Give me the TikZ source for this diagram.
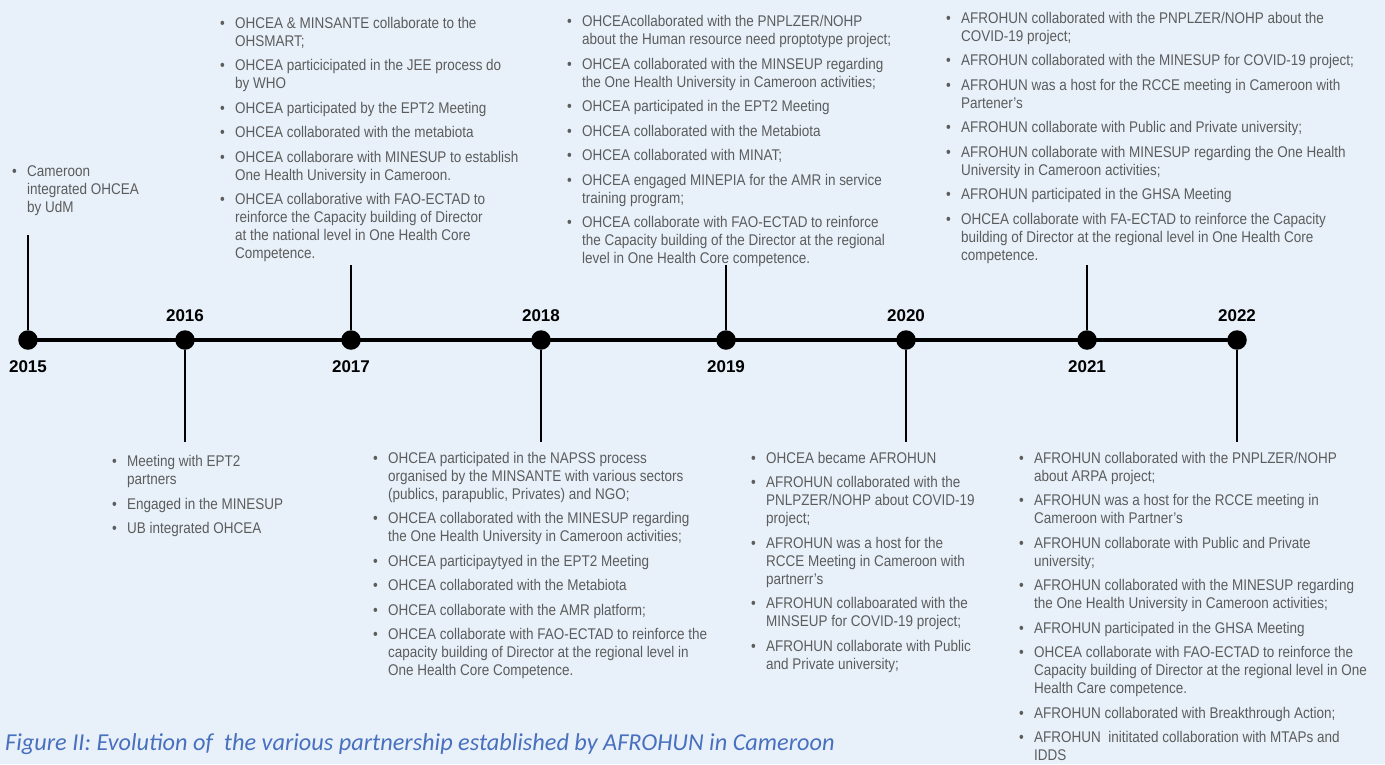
\documentclass[tikz,border=0pt]{standalone}
\usepackage{fontspec}
\setmainfont{Liberation Sans}
\newfontfamily\bodyfont{Liberation Sans}[FakeStretch=0.87]
\newfontfamily\yearfont{Liberation Sans}
\newfontfamily\capfont{Carlito}
\definecolor{bg}{RGB}{232,241,250}
\definecolor{txt}{RGB}{92,92,92}
\definecolor{capblue}{RGB}{72,112,190}
\newcommand{\bul}{\makebox[15pt][l]{\textbullet}}
\begin{document}
\begin{tikzpicture}[x=1pt,y=-1pt,
  blk/.style={anchor=base west, inner sep=0pt, text=txt, font=\bodyfont\fontsize{15.5}{18}\selectfont},
  yr/.style={anchor=base, inner sep=0pt, font=\yearfont\bfseries\fontsize{17}{20}\selectfont},
  dot/.style={circle, fill=black, minimum size=19.5pt, inner sep=0pt},
  conn/.style={line width=1.8pt},
  axis/.style={line width=4pt}]
\fill[bg] (0,0) rectangle (1385,764);
\useasboundingbox (0,0) rectangle (1385,764);

% dots
\node[dot] (d2015) at (28,340) {};
\node[dot] (d2016) at (185,340) {};
\node[dot] (d2017) at (351,340) {};
\node[dot] (d2018) at (541,340) {};
\node[dot] (d2019) at (726,340) {};
\node[dot] (d2020) at (906,340) {};
\node[dot] (d2021) at (1087,340) {};
\node[dot] (d2022) at (1237,340) {};
\draw[axis] (d2015.center) -- (d2022.center);

% years
\node[yr] (y2015) at (28,372) {2015};
\node[yr] (y2016) at (185,321) {2016};
\node[yr] (y2017) at (351,372) {2017};
\node[yr] (y2018) at (541,321) {2018};
\node[yr] (y2019) at (726,372) {2019};
\node[yr] (y2020) at (906,321) {2020};
\node[yr] (y2021) at (1087,372) {2021};
\node[yr] (y2022) at (1237,321) {2022};

% connectors
\coordinate (t2015) at (28,235);
\coordinate (t2017) at (351,265);
\coordinate (t2019) at (726,265);
\coordinate (t2021) at (1087,265);
\coordinate (b2016) at (185,442);
\coordinate (b2018) at (541,442);
\coordinate (b2020) at (906,442);
\coordinate (b2022) at (1237,442);
\draw[conn] (t2015) -- (d2015);
\draw[conn] (t2017) -- (d2017);
\draw[conn] (t2019) -- (d2019);
\draw[conn] (t2021) -- (d2021);
\draw[conn] (b2016) -- (d2016);
\draw[conn] (b2018) -- (d2018);
\draw[conn] (b2020) -- (d2020);
\draw[conn] (b2022) -- (d2022);

% text blocks
\node[blk] (k2015) at (12,176.7) {\begin{tabular}[t]{@{}l@{}l@{}}
\bul & Cameroon\\
 & integrated OHCEA\\
 & by UdM
\end{tabular}};

\node[blk] (k2017) at (220,28.3) {\begin{tabular}[t]{@{}l@{}l@{}}
\bul & OHCEA \& MINSANTE collaborate to the\\
 & OHSMART;\\[6.5pt]
\bul & OHCEA particicipated in the JEE process do\\
 & by WHO\\[6.5pt]
\bul & OHCEA participated by the EPT2 Meeting\\[6.5pt]
\bul & OHCEA collaborated with the metabiota\\[6.5pt]
\bul & OHCEA collaborare with MINESUP to establish\\
 & One Health University in Cameroon.\\[6.5pt]
\bul & OHCEA collaborative with FAO-ECTAD to\\
 & reinforce the Capacity building of Director\\
 & at the national level in One Health Core\\
 & Competence.
\end{tabular}};

\node[blk] (k2019) at (567,26.7) {\begin{tabular}[t]{@{}l@{}l@{}}
\bul & OHCEAcollaborated with the PNPLZER/NOHP\\
 & about the Human resource need proptotype project;\\[6.5pt]
\bul & OHCEA collaborated with the MINSEUP regarding\\
 & the One Health University in Cameroon activities;\\[6.5pt]
\bul & OHCEA participated in the EPT2 Meeting\\[6.5pt]
\bul & OHCEA collaborated with the Metabiota\\[6.5pt]
\bul & OHCEA collaborated with MINAT;\\[6.5pt]
\bul & OHCEA engaged MINEPIA for the AMR in service\\
 & training program;\\[6.5pt]
\bul & OHCEA collaborate with FAO-ECTAD to reinforce\\
 & the Capacity building of the Director at the regional\\
 & level in One Health Core competence.
\end{tabular}};

\node[blk] (k2021) at (946,23.3) {\begin{tabular}[t]{@{}l@{}l@{}}
\bul & AFROHUN collaborated with the PNPLZER/NOHP about the\\
 & COVID-19 project;\\[6.5pt]
\bul & AFROHUN collaborated with the MINESUP for COVID-19 project;\\[6.5pt]
\bul & AFROHUN was a host for the RCCE meeting in Cameroon with\\
 & Partener’s\\[6.5pt]
\bul & AFROHUN collaborate with Public and Private university;\\[6.5pt]
\bul & AFROHUN collaborate with MINESUP regarding the One Health\\
 & University in Cameroon activities;\\[6.5pt]
\bul & AFROHUN participated in the GHSA Meeting\\[6.5pt]
\bul & OHCEA collaborate with FA-ECTAD to reinforce the Capacity\\
 & building of Director at the regional level in One Health Core\\
 & competence.
\end{tabular}};

\node[blk] (k2016) at (112,466.7) {\begin{tabular}[t]{@{}l@{}l@{}}
\bul & Meeting with EPT2\\
 & partners\\[6.5pt]
\bul & Engaged in the MINESUP\\[6.5pt]
\bul & UB integrated OHCEA
\end{tabular}};

\node[blk] (k2018) at (373,463.3) {\begin{tabular}[t]{@{}l@{}l@{}}
\bul & OHCEA participated in the NAPSS process\\
 & organised by the MINSANTE with various sectors\\
 & (publics, parapublic, Privates) and NGO;\\[6.5pt]
\bul & OHCEA collaborated with the MINESUP regarding\\
 & the One Health University in Cameroon activities;\\[6.5pt]
\bul & OHCEA participaytyed in the EPT2 Meeting\\[6.5pt]
\bul & OHCEA collaborated with the Metabiota\\[6.5pt]
\bul & OHCEA collaborate with the AMR platform;\\[6.5pt]
\bul & OHCEA collaborate with FAO-ECTAD to reinforce the\\
 & capacity building of Director at the regional level in\\
 & One Health Core Competence.
\end{tabular}};

\node[blk] (k2020) at (751,463.3) {\begin{tabular}[t]{@{}l@{}l@{}}
\bul & OHCEA became AFROHUN\\[6.5pt]
\bul & AFROHUN collaborated with the\\
 & PNLPZER/NOHP about COVID-19\\
 & project;\\[6.5pt]
\bul & AFROHUN was a host for the\\
 & RCCE Meeting in Cameroon with\\
 & partnerr’s\\[6.5pt]
\bul & AFROHUN collaboarated with the\\
 & MINSEUP for COVID-19 project;\\[6.5pt]
\bul & AFROHUN collaborate with Public\\
 & and Private university;
\end{tabular}};

\node[blk] (k2022) at (1019,463.3) {\begin{tabular}[t]{@{}l@{}l@{}}
\bul & AFROHUN collaborated with the PNPLZER/NOHP\\
 & about ARPA project;\\[6.5pt]
\bul & AFROHUN was a host for the RCCE meeting in\\
 & Cameroon with Partner’s\\[6.5pt]
\bul & AFROHUN collaborate with Public and Private\\
 & university;\\[6.5pt]
\bul & AFROHUN collaborated with the MINESUP regarding\\
 & the One Health University in Cameroon activities;\\[6.5pt]
\bul & AFROHUN participated in the GHSA Meeting\\[6.5pt]
\bul & OHCEA collaborate with FAO-ECTAD to reinforce the\\
 & Capacity building of Director at the regional level in One\\
 & Health Care competence.\\[6.5pt]
\bul & AFROHUN collaborated with Breakthrough Action;\\[6.5pt]
\bul & AFROHUN\ \ inititated collaboration with MTAPs and\\
 & IDDS
\end{tabular}};

% caption
\node[anchor=base west, inner sep=0pt, text=capblue, font=\capfont\itshape\fontsize{24.3}{28}\selectfont] (cap) at (5,750) {Figure II: Evolution of\ \ the various partnership established by AFROHUN in Cameroon};
\end{tikzpicture}
\end{document}
